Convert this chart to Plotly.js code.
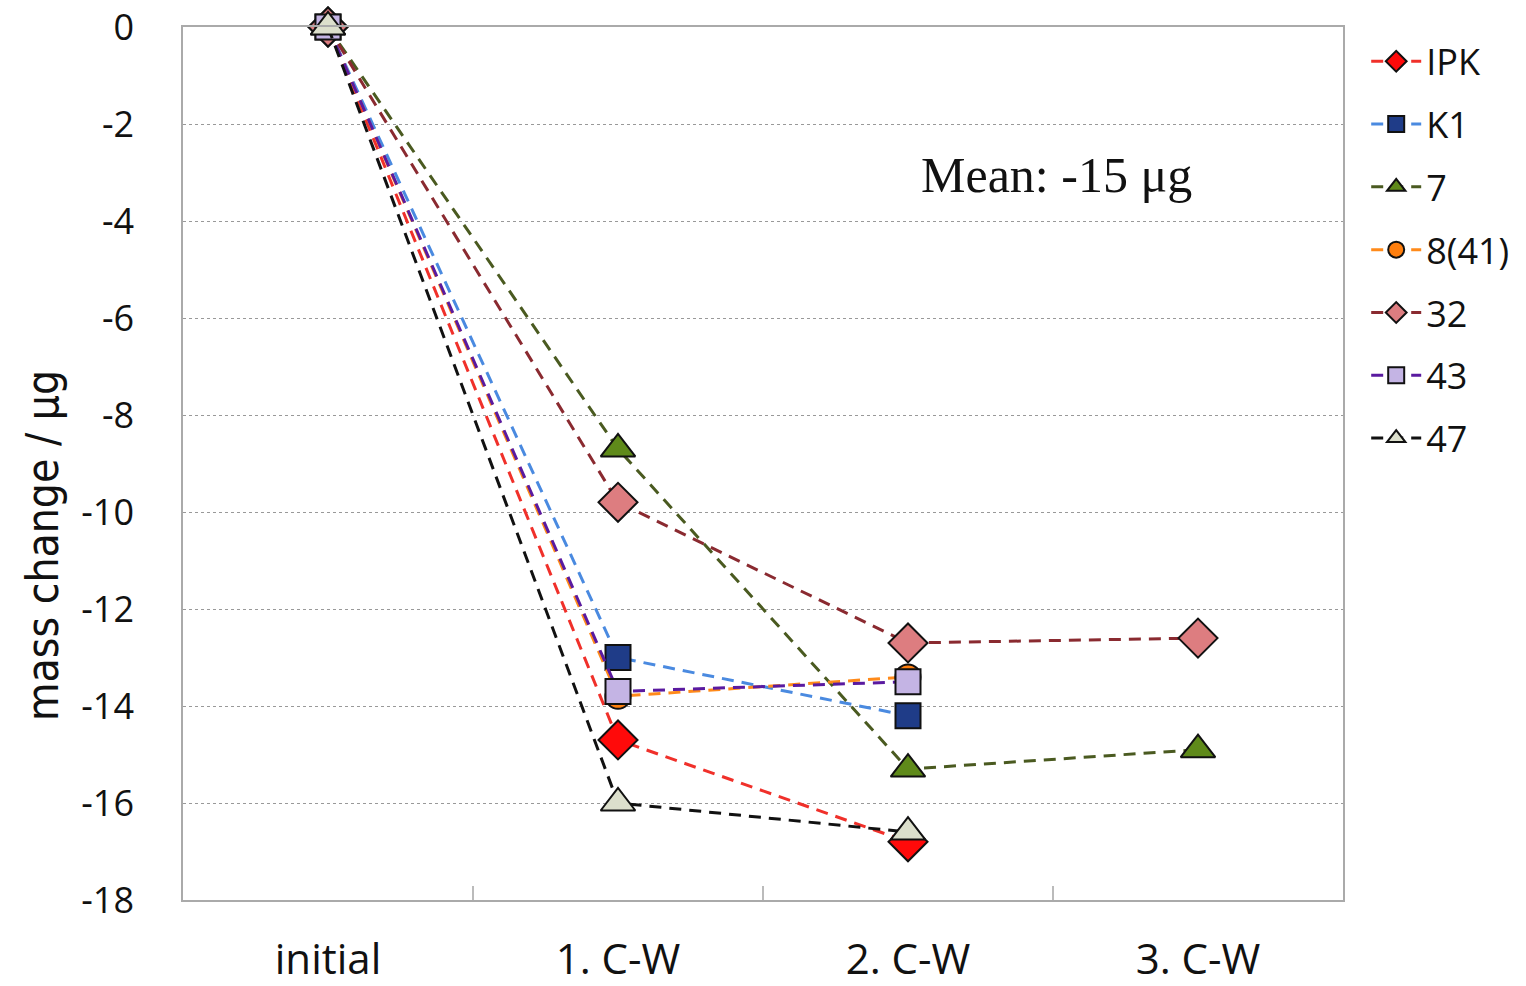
<!DOCTYPE html>
<html><head><meta charset="utf-8">
<script src="https://cdn.plot.ly/plotly-3.0.1.min.js"></script>
<style>html,body{margin:0;padding:0;background:#fff;}#chart{width:1526px;height:986px;}</style>
</head><body><div id="chart"></div>
<script>
const categories = ['initial', '1. C-W', '2. C-W', '3. C-W'];
const seriesNames = ['IPK', 'K1', '7', '8(41)', '32', '43', '47'];
const valIPK = [0, -14.7, -16.8, null];
const valK1  = [0, -13.0, -14.2, null];
const val7   = [0, -8.7, -15.3, -14.9];
const val841 = [0, -13.8, -13.4, null];
const val32  = [0, -9.8, -12.7, -12.6];
const val43  = [0, -13.7, -13.5, null];
const val47  = [0, -16.0, -16.6, null];
const seriesValues = [valIPK, valK1, val7, val841, val32, val43, val47];
const yTickVals = [0, -2, -4, -6, -8, -10, -12, -14, -16, -18];
const yTickText = ['0', '-2', '-4', '-6', '-8', '-10', '-12', '-14', '-16', '-18'];

const styles = [
  {line:'#f0302a', fill:'#ff0a0a', symbol:'diamond', size:30},
  {line:'#4a8ae0', fill:'#1f3c88', symbol:'square', size:25},
  {line:'#4a5a20', fill:'#5f8a1a', symbol:'triangle-up', size:30},
  {line:'#ff8a1a', fill:'#ff7f0e', symbol:'circle', size:25},
  {line:'#8a2a30', fill:'#dd7d80', symbol:'diamond', size:30},
  {line:'#5a1aa0', fill:'#c4b4e4', symbol:'square', size:25},
  {line:'#111111', fill:'#dcdfcc', symbol:'triangle-up', size:30}
];

const traces = seriesNames.map((n, i) => ({
  type: 'scatter', mode: 'lines+markers', name: n,
  x: categories, y: seriesValues[i],
  connectgaps: false, cliponaxis: false,
  legendgroup: n,
  line: {color: styles[i].line, width: 3, dash: '12px,8px'},
  marker: {symbol: styles[i].symbol, size: styles[i].size, color: styles[i].fill,
           line: {color: '#111', width: 2}}
}));

const layout = {
  width: 1526, height: 986,
  margin: {l: 183, r: 183, t: 27, b: 86},
  paper_bgcolor: '#fff', plot_bgcolor: '#fff',
  showlegend: true,
  legend: {x: 1.02, y: 0.995, xanchor: 'left', yanchor: 'top',
           font: {family: 'Open Sans, sans-serif', size: 36, color: '#111'},
           tracegroupgap: 13, itemwidth: 50},
  xaxis: {type: 'category', range: [-0.5, 3.5], tickson: 'boundaries', ticks: 'inside',
          ticklen: 14, tickcolor: '#bbb', tickwidth: 1.5,
          showgrid: false, showline: true, mirror: true, linecolor: '#aaa', linewidth: 1.5,
          tickfont: {family: 'Open Sans, sans-serif', size: 42, color: '#111'},
          ticklabelstandoff: 22, zeroline: false},
  yaxis: {range: [-18, 0], tickvals: yTickVals, ticktext: yTickText,
          showgrid: true, gridcolor: '#999',
          griddash: 'dot', gridwidth: 1, zeroline: false,
          showline: true, mirror: true, linecolor: '#aaa', linewidth: 1.5,
          ticks: '', tickfont: {family: 'Open Sans, sans-serif', size: 36, color: '#111'},
          ticklabelstandoff: 40},
  annotations: [
    {xref: 'paper', yref: 'paper', x: 0.753, y: 0.83, xanchor: 'center', yanchor: 'middle',
     text: 'Mean: -15 μg', showarrow: false,
     font: {family: 'Liberation Serif, serif', size: 50, color: '#111'}},
    {xref: 'paper', yref: 'paper', x: -0.1216, y: 0.4066, xanchor: 'center', yanchor: 'middle',
     text: 'mass change / μg', showarrow: false, textangle: -90,
     font: {family: 'DejaVu Sans Condensed, Liberation Sans Narrow, sans-serif', size: 44, color: '#111'}}
  ]
};

Plotly.newPlot('chart', traces, layout, {displayModeBar: false});
</script></body></html>
